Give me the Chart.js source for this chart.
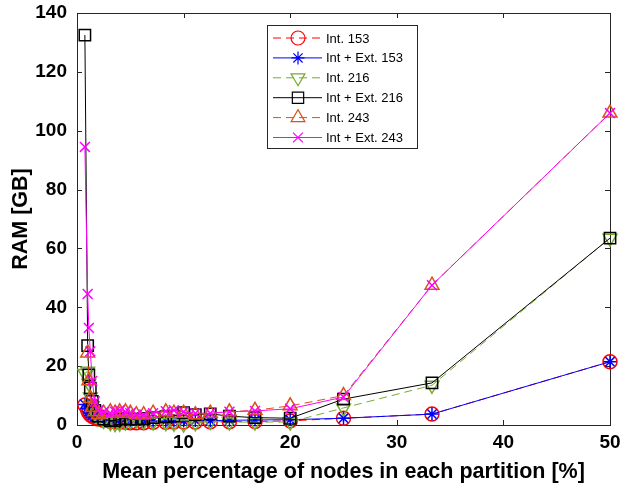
<!DOCTYPE html>
<html>
<head>
<meta charset="utf-8">
<script src="https://cdn.jsdelivr.net/npm/chart.js@4/dist/chart.umd.min.js"></script>
<style>
  html, body { margin: 0; padding: 0; background: #fff; }
</style>
</head>
<body>
<canvas id="ramChart" width="625" height="491"></canvas>
<script>
// ===============================
// DATA
// ===============================
const xPct = [0.74, 1.0, 1.11, 1.25, 1.43, 1.67, 2.0, 2.5, 3.13, 3.57, 4.0, 4.55, 5.0, 5.56,
              6.25, 7.14, 8.33, 9.09, 10.0, 11.1, 12.5, 14.3, 16.7, 20.0, 25.0, 33.3, 50.0];

const int153    = [6.8, 5.0, 4.2, 3.5, 3.0, 2.5, 2.0, 1.6, 1.3, 1.1, 1.0, 0.9, 0.8, 0.8,
                   0.8, 0.9, 0.9, 1.0, 1.0, 1.0, 1.1, 1.1, 1.2, 1.4, 2.3, 3.7, 21.5];
const intExt153 = [7.0, 5.5, 4.6, 3.9, 3.3, 2.8, 2.3, 1.9, 1.6, 1.4, 1.3, 1.2, 1.2, 1.2,
                   1.2, 1.3, 1.3, 1.4, 1.4, 1.5, 1.5, 1.6, 1.7, 1.8, 2.3, 3.7, 21.5];
const int216    = [17.5, 18.3, 14.2, 9.5, 6.5, 4.0, 2.5, 1.5, 0.8, 0.5, 0.6, 1.0, 1.5, 1.8,
                   1.2, 1.0, 0.8, 0.6, 0.3, 0.8, 1.2, 1.0, 1.0, 1.0, 5.8, 13.5, 63.5];
const intExt216 = [132.5, 27.0, 17.0, 12.5, 8.0, 5.0, 3.0, 2.0, 1.5, 1.5, 2.0, 2.2, 2.0, 2.0,
                   2.2, 2.5, 2.8, 3.0, 4.2, 3.5, 3.8, 3.0, 2.5, 2.3, 8.8, 14.3, 63.5];
const int243    = [null, 24.5, 15.0, 9.0, 6.0, 4.5, 3.5, 4.0, 4.5, 4.0, 4.5, 4.5, 4.0, 3.5,
                   3.5, 4.0, 4.5, 4.0, 4.0, 3.5, 4.0, 4.5, 5.0, 6.5, 10.0, 47.5, 106.0];
const intExt243 = [94.5, 44.5, 33.0, 25.0, 15.0, 8.0, 5.0, 4.5, 4.0, 4.5, 5.0, 4.5, 4.0, 3.5,
                   3.5, 4.0, 4.7, 5.0, 4.5, 4.0, 4.0, 4.5, 4.8, 5.5, 9.5, 47.5, 106.0];

const seriesNames = ['Int. 153', 'Int + Ext. 153', 'Int. 216', 'Int + Ext. 216', 'Int. 243', 'Int + Ext. 243'];
const seriesValues = [int153, intExt153, int216, intExt216, int243, intExt243];

const xTicks = [0, 10, 20, 30, 40, 50];
const yTicks = [0, 20, 40, 60, 80, 100, 120, 140];

// ===============================
// STYLES
// ===============================
const styles = [
  { color: '#ff0000', point: 'circle',   rot: 0,   r: 7,   dash: [8, 5] },
  { color: '#0000ff', point: 'star',     rot: 0,   r: 6.5, dash: [] },
  { color: '#77ac30', point: 'triangle', rot: 180, r: 8,   dash: [8, 5] },
  { color: '#000000', point: 'rect',     rot: 0,   r: 8,   dash: [] },
  { color: '#d95319', point: 'triangle', rot: 0,   r: 8,   dash: [8, 5] },
  { color: '#ff00ff', point: 'crossRot', rot: 0,   r: 7,   dash: [] }
];

const axisColor = '#262626';
const fontFam = '"Liberation Sans", Arial, sans-serif';

const datasets = seriesNames.map((name, i) => ({
  label: name,
  data: xPct.map((x, k) => ({ x: x, y: seriesValues[i][k] })),
  borderColor: styles[i].color,
  borderWidth: 1,
  borderDash: styles[i].dash,
  pointStyle: styles[i].point,
  pointRotation: styles[i].rot,
  pointRadius: styles[i].r,
  pointBorderColor: styles[i].color,
  pointBackgroundColor: 'rgba(0,0,0,0)',
  pointBorderWidth: 1.5,
  fill: false,
  tension: 0,
  clip: false,
  order: seriesNames.length - i
}));

// box + inward ticks, like a matlab axes
const boxAxes = {
  id: 'boxAxes',
  beforeDatasetsDraw(chart) {
    const { ctx, chartArea: a, scales } = chart;
    ctx.save();
    ctx.strokeStyle = axisColor;
    ctx.lineWidth = 1;
    ctx.strokeRect(a.left + 0.5, a.top + 0.5, a.right - a.left, a.bottom - a.top);
    ctx.beginPath();
    xTicks.forEach(v => {
      const px = Math.round(scales.x.getPixelForValue(v)) + 0.5;
      ctx.moveTo(px, a.bottom); ctx.lineTo(px, a.bottom - 5);
      ctx.moveTo(px, a.top); ctx.lineTo(px, a.top + 5);
    });
    yTicks.forEach(v => {
      const py = Math.round(scales.y.getPixelForValue(v)) + 0.5;
      ctx.moveTo(a.left, py); ctx.lineTo(a.left + 5, py);
      ctx.moveTo(a.right, py); ctx.lineTo(a.right - 5, py);
    });
    ctx.stroke();
    ctx.restore();
  }
};

// legend box inside the plot
const boxLegend = {
  id: 'boxLegend',
  afterDraw(chart) {
    const ctx = chart.ctx;
    const x0 = 267, y0 = 25, w = 150, h = 123;
    ctx.save();
    ctx.fillStyle = '#fff';
    ctx.fillRect(x0, y0, w, h);
    ctx.strokeStyle = axisColor;
    ctx.lineWidth = 1;
    ctx.strokeRect(x0 + 0.5, y0 + 0.5, w, h);
    chart.data.datasets.forEach((ds, i) => {
      const y = y0 + 13 + i * 19.9;
      ctx.strokeStyle = ds.borderColor;
      ctx.lineWidth = 1;
      ctx.setLineDash(ds.borderDash);
      ctx.beginPath();
      ctx.moveTo(x0 + 6, y);
      ctx.lineTo(x0 + 55, y);
      ctx.stroke();
      ctx.setLineDash([]);
      ctx.fillStyle = 'rgba(0,0,0,0)';
      ctx.lineWidth = 1.2;
      Chart.helpers.drawPoint(ctx, {
        pointStyle: ds.pointStyle,
        rotation: ds.pointRotation,
        radius: ds.pointRadius,
        borderWidth: 1.2
      }, x0 + 31, y);
      ctx.fillStyle = '#000';
      ctx.font = '13px ' + fontFam;
      ctx.textBaseline = 'middle';
      ctx.textAlign = 'left';
      ctx.fillText(ds.label, x0 + 59, y + 1);
    });
    ctx.restore();
  }
};

new Chart(document.getElementById('ramChart'), {
  type: 'line',
  data: { datasets: datasets },
  options: {
    responsive: false,
    animation: false,
    layout: { padding: { top: 13, right: 15, left: 0, bottom: 0 } },
    plugins: {
      legend: { display: false },
      tooltip: { enabled: false }
    },
    scales: {
      x: {
        type: 'linear',
        min: 0,
        max: 50,
        afterBuildTicks: s => { s.ticks = xTicks.map(v => ({ value: v })); },
        afterFit: s => { s.height = 66; },
        grid: { display: false, drawTicks: false },
        border: { display: false },
        ticks: {
          color: '#000',
          padding: 0,
          maxRotation: 0,
          font: { family: fontFam, size: 19, weight: 'bold', lineHeight: 1.9 }
        },
        title: {
          display: true,
          text: 'Mean percentage of nodes in each partition [%]',
          color: '#000',
          padding: { top: 0, bottom: 6 },
          font: { family: fontFam, size: 21.5, weight: 'bold' }
        }
      },
      y: {
        type: 'linear',
        min: 0,
        max: 140,
        afterBuildTicks: s => { s.ticks = yTicks.map(v => ({ value: v })); },
        afterFit: s => { s.width = 77; },
        grid: { display: false, drawTicks: false },
        border: { display: false },
        ticks: {
          color: '#000',
          padding: 10,
          font: { family: fontFam, size: 19, weight: 'bold', lineHeight: 0.1 }
        },
        title: {
          display: true,
          text: 'RAM [GB]',
          color: '#000',
          padding: { top: 8, bottom: 0 },
          font: { family: fontFam, size: 21.5, weight: 'bold' }
        }
      }
    }
  },
  plugins: [boxAxes, boxLegend]
});
</script>
</body>
</html>
